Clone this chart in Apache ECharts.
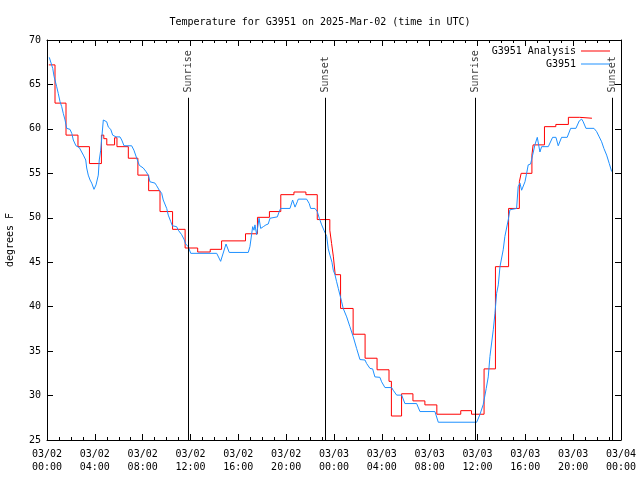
<!DOCTYPE html>
<html><head><meta charset="utf-8">
<script src="https://cdn.jsdelivr.net/npm/echarts@6/dist/echarts.min.js"></script>
<style>html,body{margin:0;padding:0;background:#fff}#c{width:640px;height:480px}</style>
</head><body><div id="c"></div>
<script>
// Hours since 2025-03-02 00:00 UTC
var tickLabels = ["03/02\n00:00","03/02\n04:00","03/02\n08:00","03/02\n12:00","03/02\n16:00","03/02\n20:00","03/03\n00:00","03/03\n04:00","03/03\n08:00","03/03\n12:00","03/03\n16:00","03/03\n20:00","03/04\n00:00"];

// G3951 Analysis (stepped, each value holds from its start time)
var analysisHours = [0.15,0.67,1.59,2.59,3.55,4.55,4.75,5.0,5.65,5.85,6.8,7.6,8.5,9.45,10.5,11.55,12.6,13.65,14.6,16.6,17.6,18.6,19.55,20.65,21.65,22.6,23.65,23.8,23.95,24.1,24.55,25.6,26.6,27.6,28.6,28.8,29.65,30.6,31.6,32.6,34.6,35.5,36.55,37.5,38.6,39.5,39.65,40.55,40.65,41.6,42.55,43.6,44.55,45.57];
var analysisTemps = [67.2,62.9,59.3,58.0,56.1,59.3,58.9,58.2,59.0,58.0,56.7,54.8,53.05,50.7,48.7,46.6,46.15,46.45,47.4,48.2,50.05,50.7,52.6,52.9,52.6,49.8,48.6,47.1,45.6,43.6,39.8,36.9,34.2,32.9,31.6,27.7,30.2,29.4,28.95,27.9,28.3,27.9,33.0,44.5,51.05,54.05,55.0,57.05,58.2,60.25,60.5,61.3,61.2,61.2];

// G3951 observations
var obsHours = [0.19,0.48,0.59,0.81,0.94,1.09,1.23,1.36,1.51,1.65,1.92,2.07,2.20,2.42,2.70,2.90,3.04,3.24,3.32,3.45,3.60,3.74,3.93,4.10,4.21,4.29,4.37,4.49,4.71,4.85,4.99,5.13,5.33,5.49,5.77,6.10,6.25,6.44,7.08,7.27,7.50,7.72,8.05,8.28,8.47,8.61,9.03,9.17,9.39,9.59,9.72,10.01,10.14,10.34,10.48,10.84,10.98,11.26,11.45,11.60,11.81,12.02,14.19,14.52,14.97,15.24,16.83,16.97,17.20,17.31,17.39,17.53,17.73,17.87,18.09,18.31,18.50,18.65,18.79,19.26,19.42,19.54,20.32,20.54,20.74,20.93,21.01,21.71,21.93,22.05,22.41,22.60,22.77,22.97,23.16,23.39,23.52,23.66,23.83,23.94,24.08,24.22,24.36,24.50,24.64,24.77,25.06,25.33,25.61,25.89,26.17,26.59,26.73,27.01,27.23,27.42,27.84,27.98,28.26,28.82,28.95,29.24,29.66,29.93,30.91,31.19,32.44,32.72,35.93,36.20,36.48,36.73,36.90,37.04,37.32,37.46,37.60,37.74,37.88,38.15,38.29,38.57,38.71,38.85,39.27,39.40,39.55,39.69,39.97,40.11,40.24,40.44,40.61,40.80,41.00,41.22,41.36,41.92,42.28,42.56,42.75,43.03,43.50,43.79,44.23,44.51,44.71,44.84,45.07,45.74,45.96,46.18,46.38,46.57,46.80,47.02,47.22];
var obsTemps = [68.05,66.8,65.9,64.75,64.0,63.06,62.5,61.75,61.0,60.06,59.95,59.5,58.75,58.1,57.9,57.4,57.05,56.5,55.6,54.8,54.25,53.9,53.2,53.7,53.9,54.8,56.5,57.6,61.0,61.1,60.8,60.2,59.95,59.3,59.1,59.1,58.75,58.1,58.1,57.6,56.7,55.9,55.6,55.2,54.8,54.05,53.9,53.6,53.1,52.75,52.0,51.05,50.3,49.6,49.1,49.0,48.6,48.1,47.6,47.05,46.75,46.0,46.0,45.1,47.05,46.1,46.1,46.75,49.0,48.6,49.2,48.1,49.95,48.8,49.0,49.2,49.3,49.95,50.1,50.1,50.7,51.05,51.05,52.0,51.2,51.8,52.1,52.1,51.6,51.05,51.05,50.7,49.95,49.2,48.6,47.9,46.5,45.8,45.0,44.1,43.6,42.8,42.05,41.3,40.55,39.8,38.85,37.75,36.6,35.3,34.05,34.0,33.6,33.05,33.0,32.1,32.05,31.55,30.9,30.9,30.6,30.05,30.05,29.1,29.1,28.2,28.2,27.0,27.0,27.85,29.0,30.8,32.1,34.4,37.4,39.25,41.5,42.45,44.5,46.4,47.9,49.75,50.9,51.05,51.05,53.5,53.9,53.1,54.05,55.0,55.95,56.05,57.05,58.2,59.05,57.4,58.0,58.0,59.05,59.05,58.1,59.05,59.05,60.06,60.06,60.9,61.1,60.8,60.06,60.06,59.7,59.1,58.55,57.8,57.05,56.1,55.2];

// Sun events
var sunNames = ["Sunrise","Sunset","Sunrise","Sunset"];
var sunHours = [11.83,23.24,35.79,47.28];

function zip(a,b){var r=[];for(var i=0;i<a.length;i++)r.push([a[i],b[i]]);return r;}

var FONT = 'DejaVu Sans Mono';
var chart = echarts.init(document.getElementById('c'), null, {renderer:'canvas'});

var sunLines = sunHours.map(function(h){return [{coord:[h,25]},{coord:[h,63.5]}];});
var sunLabels = sunHours.map(function(h,i){return {value:[h,64.1], name:sunNames[i]};});

function xAx(pos, showLabel){
  return {type:'value', position:pos, min:0, max:48, interval:4,
    axisLine:{show:true, onZero:false, lineStyle:{color:'#000', width:1}},
    axisTick:{show:true, inside:true, length:6, lineStyle:{color:'#000'}},
    minorTick:{show:true, splitNumber:4, length:3, lineStyle:{color:'#000'}},
    splitLine:{show:false}, minorSplitLine:{show:false},
    axisLabel:{show:showLabel, margin:8, color:'#000', fontFamily:FONT, fontSize:10, lineHeight:13,
      formatter:function(v){return tickLabels[Math.round(v/4)];}}};
}
function yAx(pos, showLabel){
  return {type:'value', position:pos, min:25, max:70, interval:5,
    name: showLabel ? 'degrees F' : '', nameLocation:'middle', nameGap:32, nameRotate:90,
    nameTextStyle:{color:'#000', fontFamily:FONT, fontSize:10},
    axisLine:{show:true, onZero:false, lineStyle:{color:'#000', width:1}},
    axisTick:{show:true, inside:true, length:6, lineStyle:{color:'#000'}},
    splitLine:{show:false},
    axisLabel:{show:showLabel, margin:6, color:'#000', fontFamily:FONT, fontSize:10}};
}

chart.setOption({
  animation:false,
  backgroundColor:'#fff',
  title:{text:'Temperature for G3951 on 2025-Mar-02 (time in UTC)', left:'center', top:12,
    textStyle:{fontFamily:FONT, fontSize:10, fontWeight:'normal', color:'#000'}},
  grid:{left:47, right:19, top:40, bottom:40, containLabel:false, outerBoundsMode:'none'},
  legend:[
    {data:['G3951 Analysis'], orient:'vertical', right:30, top:46, padding:0, align:'right',
     icon:'rect', itemWidth:29, itemHeight:1, textStyle:{fontFamily:FONT, fontSize:10, color:'#000'}},
    {data:['G3951'], orient:'vertical', right:30, top:59, padding:0, align:'right',
     icon:'rect', itemWidth:29, itemHeight:1, textStyle:{fontFamily:FONT, fontSize:10, color:'#000'}}
  ],
  xAxis:[xAx('bottom', true), xAx('top', false)],
  yAxis:[yAx('left', true), yAx('right', false)],
  series:[
    {name:'G3951 Analysis', type:'line', step:'end', data:zip(analysisHours, analysisTemps),
     showSymbol:false, symbol:'none', color:'#ff0000', lineStyle:{width:1, color:'#ff0000'}, z:2,
     markLine:{silent:true, symbol:'none', label:{show:false}, lineStyle:{color:'#000', width:1, type:'solid'},
       data:sunLines}},
    {name:'G3951', type:'line', data:zip(obsHours, obsTemps),
     showSymbol:false, symbol:'none', color:'#1e90ff', lineStyle:{width:1, color:'#1e90ff'}, z:3},
    {name:'sun', type:'scatter', data:sunLabels, symbolSize:0, silent:true,
     label:{show:true, position:[0,0], rotate:90, align:'left', verticalAlign:'middle',
       formatter:function(p){return p.name;}, color:'#000', fontFamily:FONT, fontSize:10}}
  ]
});
</script></body></html>
